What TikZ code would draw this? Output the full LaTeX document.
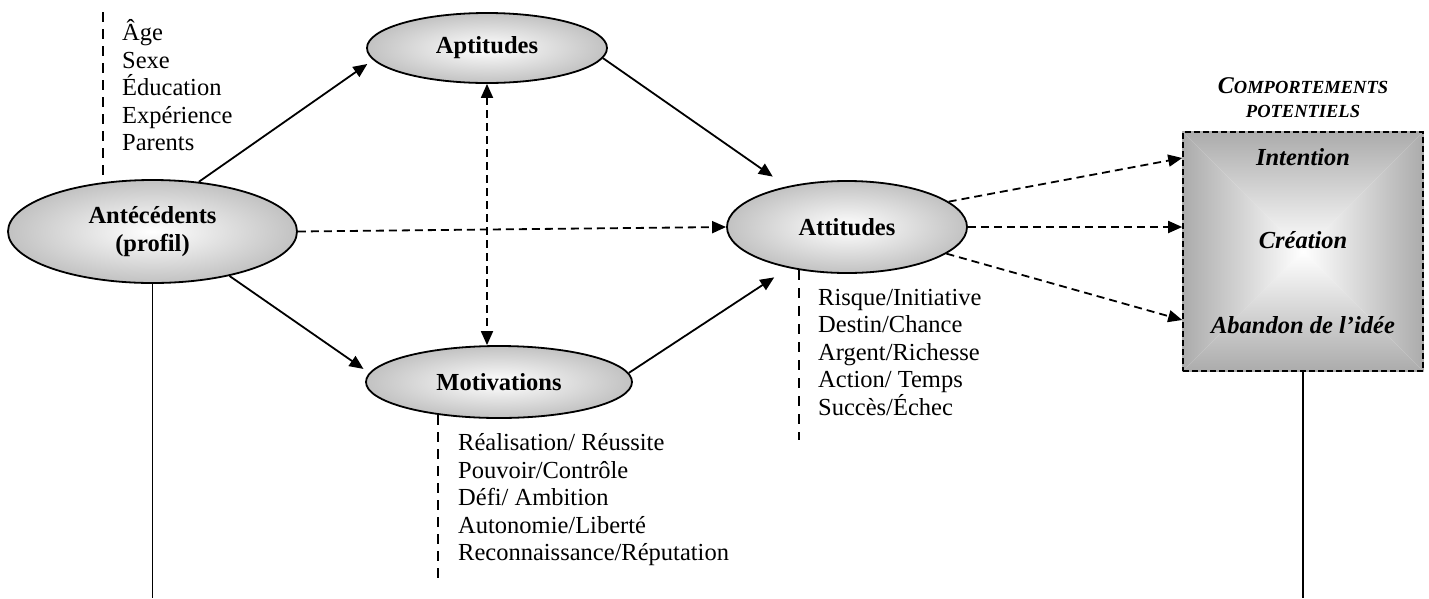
\documentclass[tikz,border=0pt]{standalone}
\usepackage{fontspec}
\setmainfont{Liberation Serif}
\usetikzlibrary{shapes.geometric,arrows.meta,backgrounds}
\begin{document}
\begin{tikzpicture}[x=1pt,y=-1pt,
  oval/.style={ellipse, draw, line width=1.8pt, inner sep=0pt, inner color=white, outer color=black!24, font=\fontsize{24.5}{28}\selectfont\bfseries, align=center},
  arr/.style={line width=1.8pt, -{Triangle[length=14pt,width=12pt]}},
  darr/.style={arr, dash pattern=on 8pt off 5pt},
  guide/.style={line width=1.8pt, dash pattern=on 10pt off 7pt},
  solidline/.style={line width=1.6pt},
  lst/.style={anchor=north west, inner sep=0pt, align=left, font=\fontsize{24.5}{27.5}\selectfont},
  boxtxt/.style={font=\fontsize{24.5}{28}\selectfont\bfseries\itshape, inner sep=0pt},
  ttl/.style={font=\bfseries\itshape, inner sep=0pt, anchor=base},
]
\useasboundingbox (0,0) rectangle (1429,598);

% ellipses
\node[oval, minimum width=289pt, minimum height=103pt] (ant) at (152.5,231.5) {Antécédents\\(profil)};
\node[oval, minimum width=240pt, minimum height=70pt] (apt) at (487,48) {Aptitudes};
\node[oval, minimum width=240pt, minimum height=92pt] (att) at (847,227) {Attitudes};
\node[oval, minimum width=266pt, minimum height=72pt] (mot) at (499,382) {Motivations};

% box of potential behaviours
\node[draw, line width=1.6pt, dash pattern=on 6pt off 3pt, minimum width=240pt, minimum height=239pt, inner sep=0pt] (box) at (1303,251.5) {};
\begin{scope}[on background layer]
\shade[top color=black!33, bottom color=white] (box.north west) -- (box.north east) -- (box.center) -- cycle;
\shade[bottom color=black!33, top color=white] (box.south west) -- (box.south east) -- (box.center) -- cycle;
\shade[left color=black!33, right color=white] (box.north west) -- (box.south west) -- (box.center) -- cycle;
\shade[right color=black!33, left color=white] (box.north east) -- (box.south east) -- (box.center) -- cycle;
\end{scope}
\node[boxtxt] (int) at (1303,157) {Intention};
\node[boxtxt] (cre) at (1303,240) {Création};
\node[boxtxt] (aba) at (1303,325) {Abandon de l’idée};
\node[ttl] (ttla) at (1303,93) {{\fontsize{24}{24}\selectfont C}{\fontsize{18.5}{24}\selectfont OMPORTEMENTS}};
\node[ttl] (ttlb) at (1303,117) {\fontsize{18.5}{24}\selectfont POTENTIELS};

% lists
\node[lst] (l1) at (122,18.5) {\rule{0pt}{22pt}Âge\\Sexe\\Éducation\\Expérience\\Parents};
\node[lst] (l2) at (818,283) {\rule{0pt}{22pt}Risque/Initiative\\Destin/Chance\\Argent/Richesse\\Action/ Temps\\Succès/Échec};
\node[lst] (l3) at (458,428.5) {\rule{0pt}{22pt}Réalisation/ Réussite\\Pouvoir/Contrôle\\Défi/ Ambition\\Autonomie/Liberté\\Reconnaissance/Réputation};

% dashed guides
\coordinate (g1a) at (103,12);
\coordinate (g1b) at (103,183);
\coordinate (g2a) at (799,270);
\coordinate (g2b) at (799,440);
\coordinate (g3a) at (438,415);
\coordinate (g3b) at (438,583);
\draw[guide] (g1a) -- (g1b);
\draw[guide, dash pattern=on 10pt off 8pt] (g2a) -- (g2b);
\draw[guide] (g3a) -- (g3b);

% solid verticals to bottom
\coordinate (antbot) at (152.5,598);
\coordinate (boxbot) at (1303,598);
\draw[solidline] (ant.south) -- (antbot);
\draw[solidline] (box.south) -- (boxbot);

% connectors
\draw[arr, shorten >=7pt] (ant.47) -- (apt.186);
\draw[arr, shorten >=17pt] (apt.-5) -- (att.146);
\draw[darr] (ant.east) -- (att.west);
\draw[arr, shorten >=7pt] (ant.-30) -- (mot.176);
\draw[arr, shorten >=17pt] (mot.4) -- (att.215);
\draw[darr, {Triangle[length=14pt,width=12pt]}-{Triangle[length=14pt,width=12pt]}] (apt.south) -- (apt.south |- mot.north);
\draw[darr] (att.14) -- ([yshift=93.5pt]box.west);
\draw[darr] (att.east) -- (att.east -| box.west);
\draw[darr] (att.-15) -- ([yshift=-68.5pt]box.west);
\end{tikzpicture}
\end{document}
